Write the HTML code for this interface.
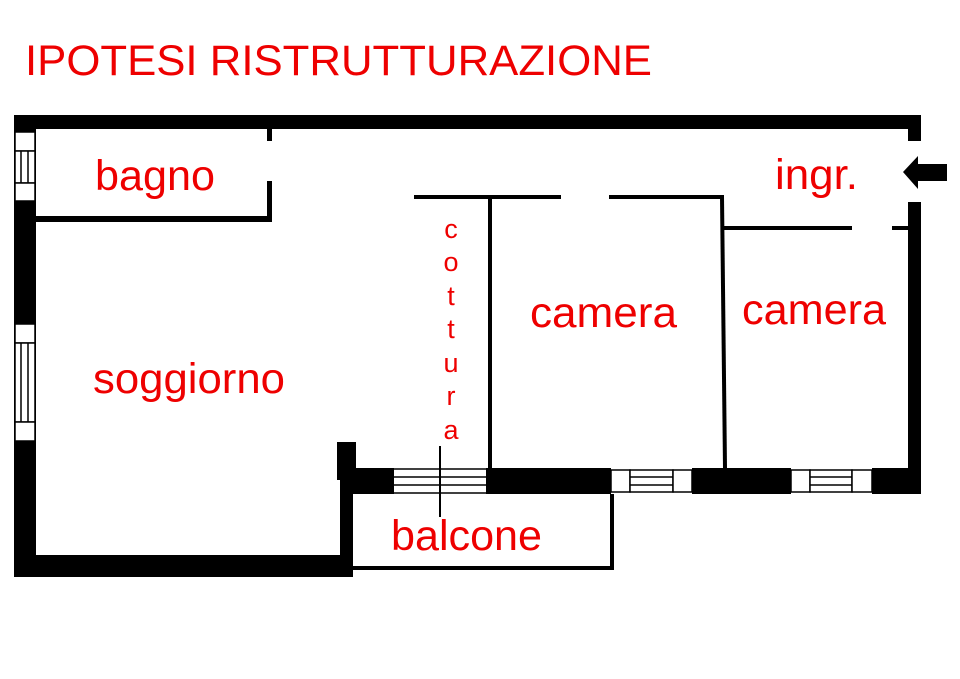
<!DOCTYPE html>
<html><head><meta charset="utf-8"><style>
html,body{margin:0;padding:0;background:#fff;}
svg{display:block;}
text{font-family:"Liberation Sans",sans-serif;fill:#ee0000;}
</style></head><body>
<svg width="960" height="679" viewBox="0 0 960 679" xmlns="http://www.w3.org/2000/svg">
<rect width="960" height="679" fill="#fff"/>
<text x="25" y="75" font-size="43" textLength="627" lengthAdjust="spacingAndGlyphs">IPOTESI RISTRUTTURAZIONE</text>

<!-- outer walls -->
<rect x="14" y="115" width="907" height="14" fill="#000"/>
<rect x="14" y="115" width="22" height="462" fill="#000"/>
<rect x="14" y="555" width="339" height="22" fill="#000"/>
<rect x="340" y="480" width="13" height="97" fill="#000"/>
<rect x="337" y="442" width="19" height="38" fill="#000"/>
<rect x="353" y="468" width="41" height="26" fill="#000"/>
<rect x="486" y="468" width="125" height="26" fill="#000"/>
<rect x="692" y="468" width="99" height="26" fill="#000"/>
<rect x="872" y="468" width="49" height="26" fill="#000"/>
<rect x="908" y="202" width="13" height="292" fill="#000"/>
<rect x="908" y="115" width="13" height="26" fill="#000"/>

<!-- left windows -->
<g fill="#fff" stroke="#000" stroke-width="1.5">
<rect x="15" y="132" width="20" height="19"/>
<rect x="15" y="151" width="20" height="32"/>
<rect x="15" y="183" width="20" height="18"/>
<rect x="15" y="324" width="20" height="19"/>
<rect x="15" y="343" width="20" height="79"/>
<rect x="15" y="422" width="20" height="19"/>
<rect x="611" y="470" width="19" height="22"/>
<rect x="630" y="470" width="43" height="22"/>
<rect x="673" y="470" width="19" height="22"/>
<rect x="791" y="470" width="19" height="22"/>
<rect x="810" y="470" width="42" height="22"/>
<rect x="852" y="470" width="20" height="22"/>
</g>
<g stroke="#000" stroke-width="1.5">
<line x1="21" y1="151" x2="21" y2="183"/><line x1="28" y1="151" x2="28" y2="183"/>
<line x1="21" y1="343" x2="21" y2="422"/><line x1="28" y1="343" x2="28" y2="422"/>
<line x1="630" y1="477" x2="673" y2="477"/><line x1="630" y1="485" x2="673" y2="485"/>
<line x1="810" y1="477" x2="852" y2="477"/><line x1="810" y1="485" x2="852" y2="485"/>
<line x1="394" y1="469" x2="486" y2="469"/><line x1="394" y1="477" x2="486" y2="477"/>
<line x1="394" y1="485" x2="486" y2="485"/><line x1="394" y1="493" x2="486" y2="493"/>
</g>

<!-- interior walls -->
<g fill="#000">
<rect x="36" y="216" width="236" height="6"/>
<rect x="267" y="129" width="5" height="12"/>
<rect x="267" y="181" width="5" height="41"/>
<rect x="414" y="195" width="147" height="4"/>
<rect x="609" y="195" width="115" height="4"/>
<rect x="488" y="197" width="4" height="271"/>
<polygon points="720,197 724,197 727,468 723,468"/>
<rect x="724" y="226" width="128" height="4"/>
<rect x="892" y="226" width="16" height="4"/>
<!-- balcony -->
<rect x="353" y="566" width="261" height="4"/>
<rect x="610" y="494" width="4" height="76"/>
<rect x="439" y="446" width="2" height="71"/>
<!-- arrow -->
<polygon points="903,172 918,156 918,164 947,164 947,181 918,181 918,189"/>
</g>

<text x="95" y="190" font-size="43" textLength="120" lengthAdjust="spacingAndGlyphs">bagno</text>
<text x="93" y="393" font-size="43" textLength="192" lengthAdjust="spacingAndGlyphs">soggiorno</text>
<text x="530" y="327" font-size="43" textLength="147" lengthAdjust="spacingAndGlyphs">camera</text>
<text x="742" y="324" font-size="43" textLength="144" lengthAdjust="spacingAndGlyphs">camera</text>
<text x="775" y="189" font-size="43" textLength="83" lengthAdjust="spacingAndGlyphs">ingr.</text>
<text x="391" y="550" font-size="43" textLength="151" lengthAdjust="spacingAndGlyphs">balcone</text>
<g font-size="27" text-anchor="middle">
<text x="451" y="238">c</text>
<text x="451" y="271">o</text>
<text x="451" y="305">t</text>
<text x="451" y="338">t</text>
<text x="451" y="372">u</text>
<text x="451" y="405">r</text>
<text x="451" y="439">a</text>
</g>
</svg>
</body></html>
